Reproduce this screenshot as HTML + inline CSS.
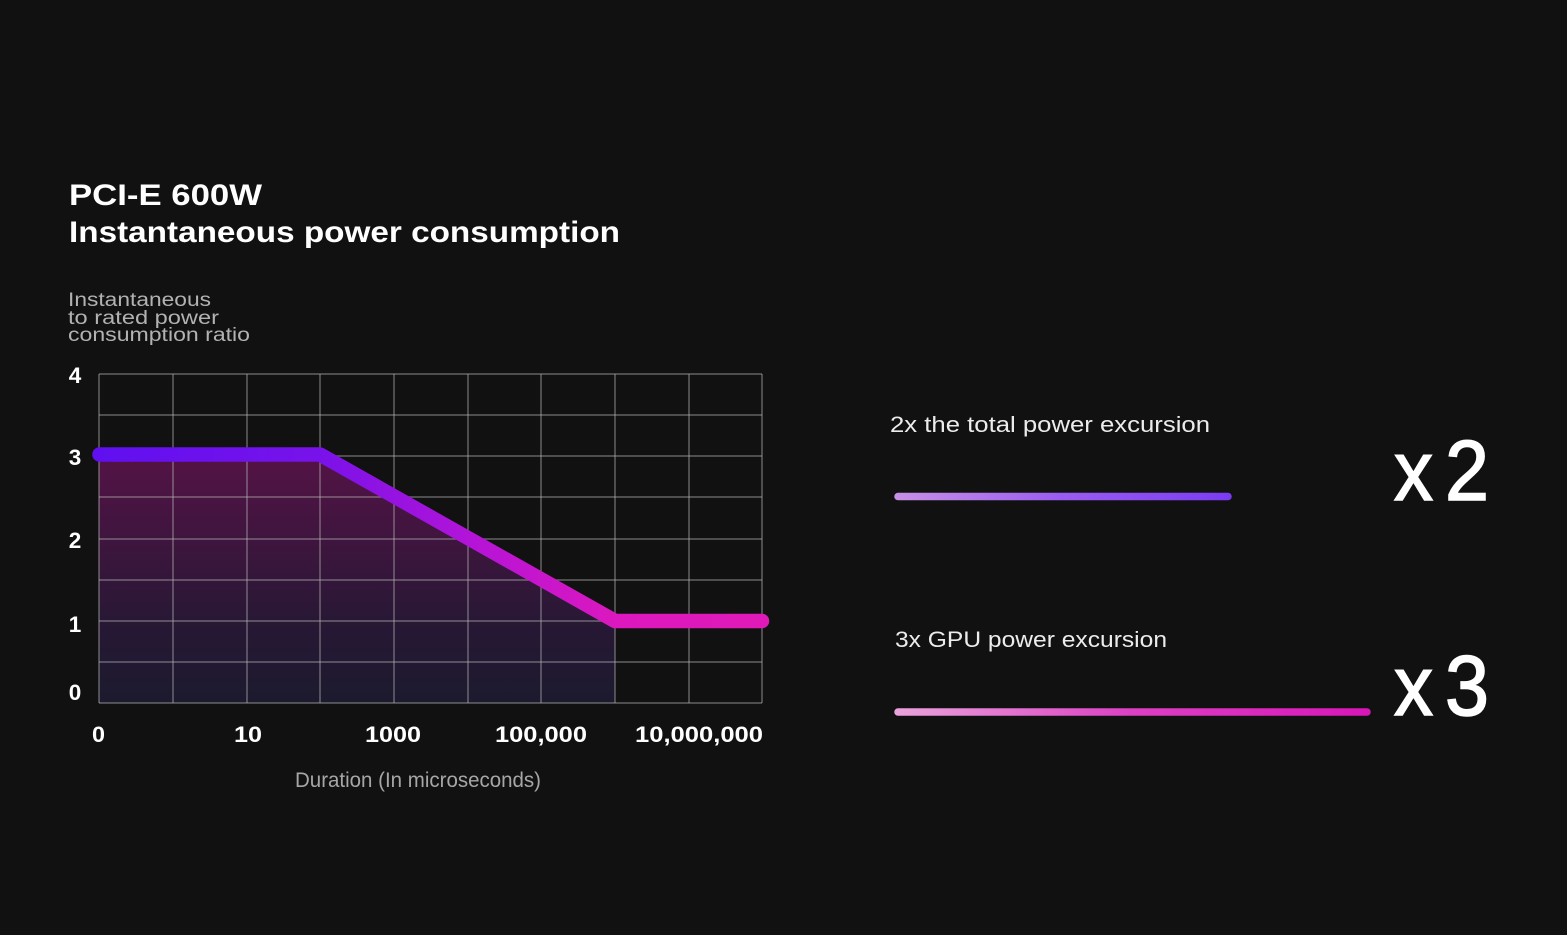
<!DOCTYPE html>
<html>
<head>
<meta charset="utf-8">
<style>
  html, body { margin: 0; padding: 0; background: #111111; }
  body { width: 1567px; height: 935px; overflow: hidden; }
  svg { display: block; }
  text { font-family: "Liberation Sans", "DejaVu Sans", sans-serif; }
</style>
</head>
<body>
<svg width="1567" height="935" viewBox="0 0 1567 935" xmlns="http://www.w3.org/2000/svg">
  <defs>
    <linearGradient id="fillGrad" x1="0" y1="455" x2="0" y2="703" gradientUnits="userSpaceOnUse">
      <stop offset="0" stop-color="#541345"/>
      <stop offset="0.35" stop-color="#3e153e"/>
      <stop offset="0.7" stop-color="#261834"/>
      <stop offset="1" stop-color="#1c1a2e"/>
    </linearGradient>
    <linearGradient id="lineGrad" x1="99" y1="0" x2="762" y2="0" gradientUnits="userSpaceOnUse">
      <stop offset="0" stop-color="#6010f0"/>
      <stop offset="0.33" stop-color="#7812ea"/>
      <stop offset="0.58" stop-color="#b814d6"/>
      <stop offset="0.78" stop-color="#dc18be"/>
      <stop offset="1" stop-color="#e01ab8"/>
    </linearGradient>
    <linearGradient id="bar1" x1="894" y1="0" x2="1231" y2="0" gradientUnits="userSpaceOnUse">
      <stop offset="0" stop-color="#c890e6"/>
      <stop offset="0.5" stop-color="#9a5cf0"/>
      <stop offset="1" stop-color="#7a3cf2"/>
    </linearGradient>
    <linearGradient id="bar2" x1="894" y1="0" x2="1370" y2="0" gradientUnits="userSpaceOnUse">
      <stop offset="0" stop-color="#eaa4dc"/>
      <stop offset="0.5" stop-color="#dc40c4"/>
      <stop offset="1" stop-color="#d816b8"/>
    </linearGradient>
  </defs>

  <rect x="0" y="0" width="1567" height="935" fill="#111111"/>

  <!-- Title -->
  <text x="69" y="205" font-size="30" font-weight="bold" fill="#ffffff" textLength="193" lengthAdjust="spacingAndGlyphs">PCI-E 600W</text>
  <text x="69" y="242" font-size="30" font-weight="bold" fill="#ffffff" textLength="551" lengthAdjust="spacingAndGlyphs">Instantaneous power consumption</text>

  <!-- Y axis title -->
  <text x="68" y="306" font-size="19" fill="#b2b2b2" textLength="143" lengthAdjust="spacingAndGlyphs">Instantaneous</text>
  <text x="68" y="324" font-size="19" fill="#b2b2b2" textLength="151" lengthAdjust="spacingAndGlyphs">to rated power</text>
  <text x="68" y="341" font-size="19" fill="#b2b2b2" textLength="182" lengthAdjust="spacingAndGlyphs">consumption ratio</text>

  <!-- Area fill -->
  <polygon points="99,455 320,455 615,621 615,703 99,703" fill="url(#fillGrad)"/>

  <!-- Grid -->
  <g stroke="rgba(180,180,180,0.5)" stroke-width="1.5" fill="none">
    <line x1="99" y1="374" x2="762" y2="374"/>
    <line x1="99" y1="415" x2="762" y2="415"/>
    <line x1="99" y1="456" x2="762" y2="456"/>
    <line x1="99" y1="497" x2="762" y2="497"/>
    <line x1="99" y1="539" x2="762" y2="539"/>
    <line x1="99" y1="580" x2="762" y2="580"/>
    <line x1="99" y1="621" x2="762" y2="621"/>
    <line x1="99" y1="662" x2="762" y2="662"/>
    <line x1="99" y1="703" x2="762" y2="703"/>
    <line x1="99" y1="374" x2="99" y2="703"/>
    <line x1="173" y1="374" x2="173" y2="703"/>
    <line x1="247" y1="374" x2="247" y2="703"/>
    <line x1="320" y1="374" x2="320" y2="703"/>
    <line x1="394" y1="374" x2="394" y2="703"/>
    <line x1="468" y1="374" x2="468" y2="703"/>
    <line x1="541" y1="374" x2="541" y2="703"/>
    <line x1="615" y1="374" x2="615" y2="703"/>
    <line x1="689" y1="374" x2="689" y2="703"/>
    <line x1="762" y1="374" x2="762" y2="703"/>
  </g>

  <!-- Series line -->
  <polyline points="99.5,454.5 320,454.5 615,621 762,621" fill="none" stroke="url(#lineGrad)" stroke-width="14.5" stroke-linecap="round" stroke-linejoin="round"/>

  <!-- Y tick labels -->
  <g font-size="22.5" font-weight="bold" fill="#ffffff" text-anchor="middle">
    <text x="75" y="383">4</text>
    <text x="75" y="465">3</text>
    <text x="75" y="548">2</text>
    <text x="75" y="632">1</text>
    <text x="75" y="700">0</text>
  </g>

  <!-- X tick labels -->
  <g font-size="22.5" font-weight="bold" fill="#ffffff">
    <text x="92" y="742" textLength="13" lengthAdjust="spacingAndGlyphs">0</text>
    <text x="234" y="742" textLength="28" lengthAdjust="spacingAndGlyphs">10</text>
    <text x="365" y="742" textLength="56" lengthAdjust="spacingAndGlyphs">1000</text>
    <text x="495" y="742" textLength="92" lengthAdjust="spacingAndGlyphs">100,000</text>
    <text x="635" y="742" textLength="128" lengthAdjust="spacingAndGlyphs">10,000,000</text>
  </g>

  <!-- X axis title -->
  <text x="295" y="787" font-size="21" fill="#a6a6a6" textLength="246" lengthAdjust="spacingAndGlyphs">Duration (In microseconds)</text>

  <!-- Right side: item 1 -->
  <text x="890" y="432" font-size="22" fill="#ececec" textLength="320" lengthAdjust="spacingAndGlyphs">2x the total power excursion</text>
  <line x1="898" y1="496.5" x2="1228" y2="496.5" stroke="url(#bar1)" stroke-width="7.5" stroke-linecap="round"/>
  <g fill="#ffffff" stroke="#ffffff" stroke-width="1.6">
    <text x="1394" y="500" font-size="84" textLength="39" lengthAdjust="spacingAndGlyphs">x</text>
    <text x="1445" y="500" font-size="85" textLength="44" lengthAdjust="spacingAndGlyphs">2</text>
  </g>

  <!-- Right side: item 2 -->
  <text x="895" y="647" font-size="22" fill="#ececec" textLength="272" lengthAdjust="spacingAndGlyphs">3x GPU power excursion</text>
  <line x1="898" y1="712" x2="1367" y2="712" stroke="url(#bar2)" stroke-width="7.5" stroke-linecap="round"/>
  <g fill="#ffffff" stroke="#ffffff" stroke-width="1.6">
    <text x="1394" y="715" font-size="84" textLength="39" lengthAdjust="spacingAndGlyphs">x</text>
    <text x="1445" y="715" font-size="85" textLength="44" lengthAdjust="spacingAndGlyphs">3</text>
  </g>
</svg>
</body>
</html>
